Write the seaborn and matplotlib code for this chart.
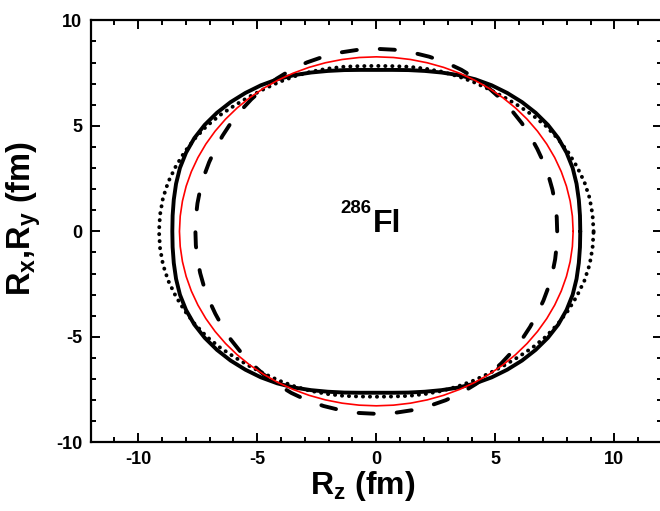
import numpy as np
import pandas as pd
import matplotlib
matplotlib.use("Agg")
import matplotlib.pyplot as plt
from matplotlib.ticker import MultipleLocator
import seaborn as sns

# ---- data: radius (fm) of each nuclear surface vs polar angle from the z axis,
# read from the picture for one quadrant (shapes are reflection-symmetric)
angle_deg = [0, 5, 10, 15, 20, 25, 30, 35, 40, 45, 50, 55, 60, 65, 70, 75, 80, 85, 90]
r_solid = [8.57, 8.59, 8.64, 8.71, 8.78, 8.82, 8.83, 8.80, 8.74, 8.66,
           8.56, 8.45, 8.32, 8.17, 8.01, 7.87, 7.76, 7.68, 7.65]
r_dotted = [9.13, 9.12, 9.10, 9.05, 8.97, 8.89, 8.80, 8.70, 8.57, 8.43,
            8.32, 8.23, 8.17, 8.11, 8.05, 7.98, 7.92, 7.86, 7.84]
r_dashed = [7.60, 7.61, 7.63, 7.66, 7.70, 7.75, 7.81, 7.89, 7.98, 8.07,
            8.17, 8.27, 8.36, 8.45, 8.52, 8.57, 8.61, 8.64, 8.65]
r_red = [8.27, 8.27, 8.27, 8.27, 8.27, 8.27, 8.27, 8.27, 8.27, 8.27,
         8.27, 8.27, 8.27, 8.27, 8.27, 8.27, 8.27, 8.27, 8.27]

x_ticks = [-10, -5, 0, 5, 10]
y_ticks = [-10, -5, 0, 5, 10]
nucleus_mass = "286"
nucleus_symbol = "Fl"


def closed_shape(radii):
    a = np.asarray(angle_deg, float)
    r = np.asarray(radii, float)
    ang = np.concatenate([a, 180 - a[-2::-1], 180 + a[1:], 360 - a[-2::-1]])
    rad = np.concatenate([r, r[-2::-1], r[1:], r[-2::-1]])
    t = np.deg2rad(ang)
    return pd.DataFrame({"Rz": rad * np.cos(t), "Rx": rad * np.sin(t),
                         "order": np.arange(len(t))})


sns.set_theme(style="ticks")
plt.rcParams["font.family"] = ["Liberation Sans", "DejaVu Sans"]
plt.rcParams["font.weight"] = "bold"
plt.rcParams["text.color"] = "black"
plt.rcParams["axes.labelcolor"] = "black"
plt.rcParams["xtick.color"] = "black"
plt.rcParams["ytick.color"] = "black"
plt.rcParams["axes.edgecolor"] = "black"
plt.rcParams["mathtext.fontset"] = "custom"
plt.rcParams["mathtext.rm"] = "Liberation Sans:bold"
plt.rcParams["mathtext.it"] = "Liberation Sans:bold"
plt.rcParams["mathtext.bf"] = "Liberation Sans:bold"
plt.rcParams["mathtext.default"] = "rm"

fig = plt.figure(figsize=(6.6, 5.11), dpi=100)
ax = fig.add_axes([0.1374, 0.1344, 0.8655, 0.8258])

styles = [
    (r_dashed, dict(color="black", lw=2.8, linestyle=(0, (3.9, 5.9)),
                    dash_capstyle="round")),
    (r_dotted, dict(color="black", lw=2.8, linestyle=(0, (0.05, 1.75)),
                    dash_capstyle="round")),
    (r_solid, dict(color="black", lw=2.8, linestyle="-")),
    (r_red, dict(color="red", lw=1.2, linestyle="-")),
]
for radii, kw in styles:
    df = closed_shape(radii)
    sns.lineplot(data=df, x="Rz", y="Rx", sort=False, estimator=None,
                 ax=ax, **kw)

ax.set_xlim(-12, 12)
ax.set_ylim(-10, 10)
ax.set_xticks(x_ticks)
ax.set_yticks(y_ticks)
ax.set_xticklabels([str(v) for v in x_ticks])
ax.set_yticklabels([str(v) for v in y_ticks])
ax.xaxis.set_minor_locator(MultipleLocator(1))
ax.yaxis.set_minor_locator(MultipleLocator(1))
ax.tick_params(which="both", direction="in", top=True, right=True,
               width=1.4, colors="black", labelcolor="black")
ax.tick_params(which="major", length=6.5, labelsize=13, pad=6)
ax.tick_params(which="minor", length=3.4)
for lab in ax.get_xticklabels() + ax.get_yticklabels():
    lab.set_fontweight("bold")
    lab.set_color("black")
for sp in ax.spines.values():
    sp.set_linewidth(1.6)
    sp.set_color("black")

ax.set_xlabel(r"R$_{z}$ (fm)", fontsize=23, fontweight="bold", color="black")
ax.set_ylabel(r"R$_{x}$,R$_{y}$ (fm)", fontsize=23.5, fontweight="bold",
              color="black")
ax.xaxis.set_label_coords(0.476, -0.064)
ax.yaxis.set_label_coords(-0.083, 0.531)

ax.text(-1.49, 0.85, nucleus_mass, fontsize=13.4, fontweight="bold",
        ha="left", va="baseline", color="black")
ax.text(-0.14, -0.05, nucleus_symbol, fontsize=23, fontweight="bold",
        ha="left", va="baseline", color="black")

fig.savefig("out.png", dpi=100)
